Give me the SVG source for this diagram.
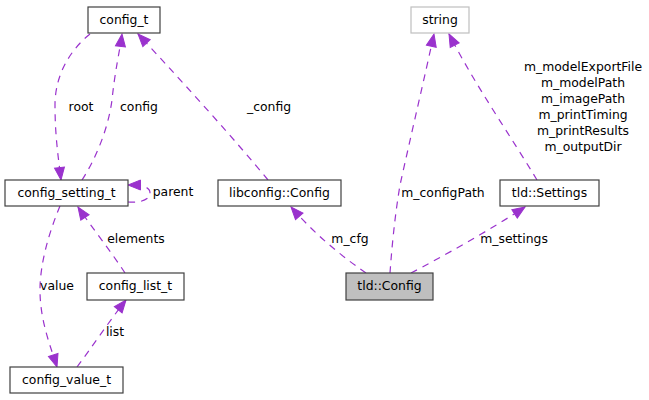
<svg xmlns="http://www.w3.org/2000/svg" width="649" height="400" viewBox="0 0 649 400">
  <defs>
    <style>
      text { font-family: "DejaVu Sans", "Liberation Sans", sans-serif; font-size: 12.4px; fill: #000; text-anchor: middle; }
      .node rect { fill: #fff; stroke: #404040; stroke-width: 1.2; }
      .node.current rect { fill: #bfbfbf; }
      .node.external rect { stroke: #bfbfbf; }
      .edge { fill: none; stroke: #9a32cd; stroke-width: 1.2; stroke-dasharray: 7,6; marker-end: url(#arrow); }
    </style>
    <marker id="arrow" markerUnits="userSpaceOnUse" markerWidth="14" markerHeight="12" refX="12.5" refY="0" viewBox="-1 -6 14 12" orient="auto" overflow="visible">
      <path d="M0,-5 L12.5,0 L0,5 Z" fill="#9a32cd" stroke="#9a32cd" stroke-width="1"/>
    </marker>
  </defs>
  <rect width="649" height="400" fill="#fff"/>

  <!-- connectors -->
  <g id="edges">
    <path class="edge" d="M90,34 C70,50 55,75 55,105 C55,135 58,155 61,180"/>
    <path class="edge" d="M82,180 C95,160 108,130 112,100 C115,70 120,50 122,34"/>
    <path class="edge" d="M268,180 C235,140 190,90 138,34"/>
    <path class="edge" d="M128,202 C140,203 150,200 150,193 C150,187 143,185 128,185"/>
    <path class="edge" d="M125,273 C110,250 90,225 78,207"/>
    <path class="edge" d="M60,206 C48,235 40,265 40,290 C40,320 50,345 57,367"/>
    <path class="edge" d="M77,367 C90,350 110,320 126,300"/>
    <path class="edge" d="M366,273 C350,262 320,240 291,207"/>
    <path class="edge" d="M390,273 C392,245 395,215 400,185 C410,140 425,75 434,34"/>
    <path class="edge" d="M411,273 C440,258 490,230 525,207"/>
    <path class="edge" d="M537,180 C510,135 475,85 449,34"/>

    <text x="81" y="111">root</text>
    <text x="139" y="111">config</text>
    <text x="269" y="111">_config</text>
    <text x="173" y="196">parent</text>
    <text x="136" y="243">elements</text>
    <text x="57" y="290">value</text>
    <text x="115" y="336">list</text>
    <text x="350" y="243">m_cfg</text>
    <text x="443" y="197">m_configPath</text>
    <text x="514" y="243">m_settings</text>
    <text x="583" y="71">m_modelExportFile</text>
    <text x="583" y="87">m_modelPath</text>
    <text x="583" y="103">m_imagePath</text>
    <text x="583" y="119">m_printTiming</text>
    <text x="583" y="135">m_printResults</text>
    <text x="583" y="151">m_outputDir</text>
  </g>

  <!-- nodes -->
  <g id="config_t" class="node">
    <rect x="88" y="7" width="72" height="26"/>
    <text x="124" y="24">config_t</text>
  </g>
  <g id="config_setting_t" class="node">
    <rect x="5" y="180" width="123" height="26"/>
    <text x="66.5" y="197">config_setting_t</text>
  </g>
  <g id="config_list_t" class="node">
    <rect x="87" y="273" width="97" height="27"/>
    <text x="135.5" y="290">config_list_t</text>
  </g>
  <g id="config_value_t" class="node">
    <rect x="10" y="367" width="113" height="26"/>
    <text x="66.5" y="384">config_value_t</text>
  </g>
  <g id="libconfig_Config" class="node">
    <rect x="218" y="180" width="123" height="26"/>
    <text x="279.5" y="197">libconfig::Config</text>
  </g>
  <g id="tld_Config" class="node current">
    <rect x="346" y="273" width="87" height="27"/>
    <text x="389.5" y="290">tld::Config</text>
  </g>
  <g id="string" class="node external">
    <rect x="411" y="7" width="58" height="26"/>
    <text x="440" y="24">string</text>
  </g>
  <g id="tld_Settings" class="node">
    <rect x="500" y="180" width="99" height="26"/>
    <text x="549.5" y="197">tld::Settings</text>
  </g>
</svg>
